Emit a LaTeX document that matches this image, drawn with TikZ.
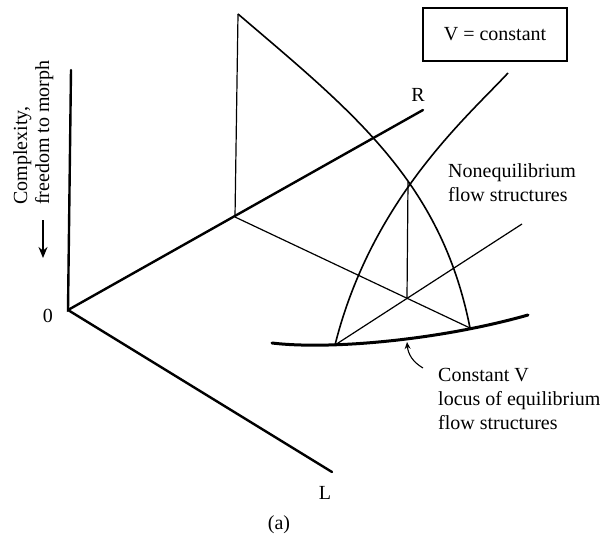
\documentclass[tikz,border=0pt]{standalone}
\usepackage{fontspec}
\setmainfont{Liberation Serif}
\usetikzlibrary{positioning, arrows.meta}

\begin{document}
\begin{tikzpicture}[x=1pt, y=-1pt,
      axis/.style={line width=2.4pt, line cap=round},
      plane/.style={line width=1.2pt},
      arc/.style={line width=1.6pt},
      locus/.style={line width=3pt, line cap=round},
      lbl/.style={font=\fontsize{20}{24}\selectfont, inner sep=0pt},
      txt/.style={lbl, align=left, anchor=north west},
      pointer/.style={-{Stealth[length=7pt, width=6pt]}, line width=1.1pt}]
    \useasboundingbox (0,0) rectangle (607,540);
    % axes
    \coordinate (O)    at (68,310);
    \coordinate (top)  at (71,70);
    \coordinate (Rend) at (423,110);
    \coordinate (Lend) at (332,472);
    \draw[axis] (top) -- (O) -- (Rend);
    \draw[axis] (O) -- (Lend);
    \node[lbl, left=15pt of O, yshift=-6pt] (zero) {0};
    \node[lbl, above=8pt of Rend, xshift=-5pt] (rlab) {R};
    \node[lbl, below=14pt of Lend, xshift=-7pt] (llab) {L};
    % back plane and flow structures
    \coordinate (C)    at (235,217);
    \coordinate (Ctop) at (238,14);
    \coordinate (apex) at (408,182);
    \coordinate (mid)  at (407,298);
    \coordinate (eqL)  at (335,345);
    \coordinate (eqR)  at (470,328);
    \coordinate (nonR) at (508,73);
    \coordinate (rayE) at (522,224);
    \draw[plane] (C) -- (Ctop);
    \draw[arc] (Ctop) .. controls (352,111.5) and (441,181) .. (eqR);
    \draw[arc] (eqL) .. controls (371.5,199.5) and (467,117.1) .. (nonR);
    \draw[plane] (apex) -- (mid);
    \draw[plane] (C) -- (eqR);
    \draw[plane] (eqL) -- (rayE);
    % equilibrium locus
    \coordinate (locL) at (272,343);
    \coordinate (locR) at (528,315);
    \draw[locus] (locL) .. controls (330,350) and (440,340) .. (locR);
    \node[txt] (cv) at (438,368) {Constant V\\locus of equilibrium\\flow structures};
    \coordinate (tail) at (423,368);
    \coordinate (tip)  at (407,342);
    \draw[pointer] (tail) to[out=150, in=-85] (tip);
    \node[txt] (noneq) at (448,163) {Nonequilibrium\\flow structures};
    % box and vertical label
    \node[lbl, draw, line width=1.1pt, minimum width=144pt, minimum height=53pt] (vbox) at (495,34.5) {V = constant};
    \node[txt, rotate=90, font=\fontsize{20}{22}\selectfont] (cplx) at (13,205) {Complexity,\\freedom to morph};
    \coordinate (dnA) at (43,220);
    \coordinate (dnB) at (43,258);
    \draw[-{Stealth[length=11pt, width=9pt]}, line width=1.6pt] (dnA) -- (dnB);
    \node[lbl] (cap) at (279,525) {(a)};
\end{tikzpicture}
\end{document}
